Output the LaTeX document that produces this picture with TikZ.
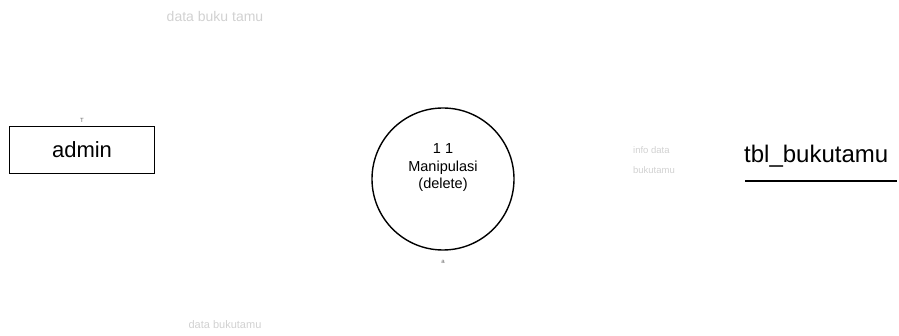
\documentclass[tikz,border=0pt]{standalone}
\usepackage{fontspec}
\setmainfont{Liberation Sans}
\begin{document}
\begin{tikzpicture}[x=1pt,y=-1pt,
  entity/.style={draw=black,line width=1.3pt,minimum width=145pt,minimum height=47pt,inner sep=0pt,font=\fontsize{22}{24}\selectfont},
  procnode/.style={draw=black,line width=1.4pt,circle,minimum size=142pt,inner sep=0pt},
  faint/.style={text=black!18,inner sep=0pt},
  tiny/.style={text=black!60,font=\fontsize{6}{6}\selectfont,inner sep=0pt}]
\useasboundingbox (0,0) rectangle (899,336);
\node[entity] (admin) at (82,150) {admin};
\node[procnode] (proc) at (443,179) {};
\node[font=\fontsize{14.5}{17.5}\selectfont,align=center,inner sep=0pt] (ptext) at (443,168) {1 1\\Manipulasi\\(delete)};
\node[font=\fontsize{24}{26}\selectfont,inner sep=0pt,anchor=west] (store) at (744,156) {tbl\_bukutamu};
\coordinate (sl) at (745,181);
\coordinate (sr) at (897,181);
\draw[line width=1.3pt] (sl) -- (sr);
\node[faint,font=\fontsize{14}{16}\selectfont] (lt) at (215,17) {data buku tamu};
\node[faint,align=left,font=\fontsize{9.5}{20}\selectfont] (lr) at (654,160) {info data\\bukutamu};
\node[faint,font=\fontsize{11}{13}\selectfont] (lb) at (225,325) {data bukutamu};
\node[tiny] (m1) at (82,120) {T};
\node[tiny] (m2) at (443,262) {a};
\end{tikzpicture}
\end{document}
